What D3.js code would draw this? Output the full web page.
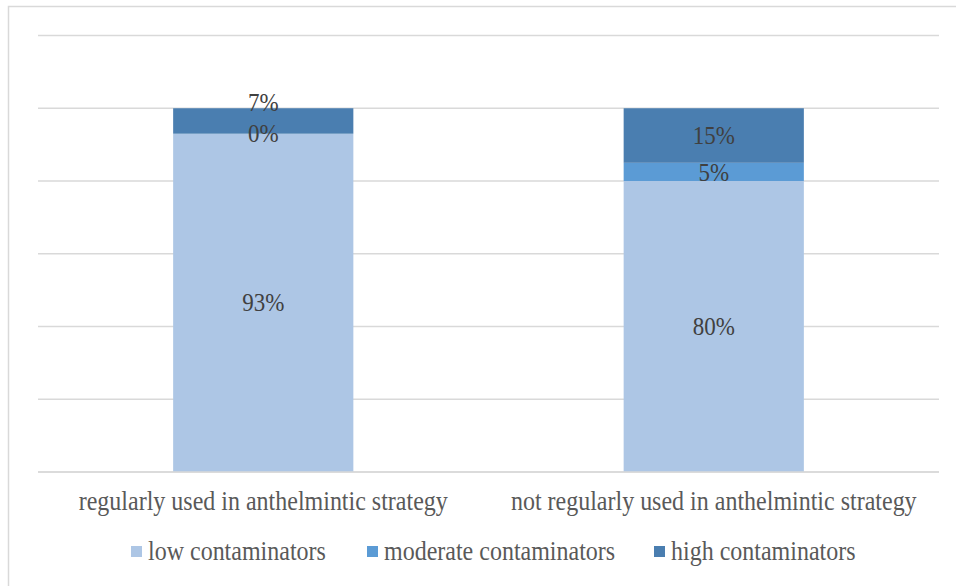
<!DOCTYPE html>
<html><head><meta charset="utf-8">
<script src="https://cdn.jsdelivr.net/npm/d3@7"></script>
<style>body{margin:0;background:#fff}svg{display:block}</style>
</head><body>
<svg id="c" width="956" height="586"></svg>
<script>
const categories = ["regularly used in anthelmintic strategy", "not regularly used in anthelmintic strategy"];
const seriesNames = ["low contaminators", "moderate contaminators", "high contaminators"];
const lowValues = [93, 80];
const moderateValues = [0, 5];
const highValues = [7, 15];
const yTicks = [0, 20, 40, 60, 80, 100, 120];
const colors = ["#adc6e5", "#5b9bd5", "#4a7eb0"];

const svg = d3.select("#c");
const W = 956, H = 586;
const font = "'Liberation Serif','Times New Roman',serif";
const textColor = "#595959";
const stretch = 1.1;

// outer border
svg.append("rect").attr("x", 8.5).attr("y", 6.5).attr("width", W).attr("height", H)
  .attr("fill", "none").attr("stroke", "#d9d9d9").attr("stroke-width", 1.5);

const x = d3.scaleBand().domain(categories).range([38, 939]).paddingInner(0.6).paddingOuter(0.3);
const y = d3.scaleLinear().domain([0, 120]).range([472, 35.5]);

// gridlines
svg.append("g").selectAll("line").data(yTicks).join("line")
  .attr("x1", 38).attr("x2", 939)
  .attr("y1", d => y(d)).attr("y2", d => y(d))
  .attr("stroke", "#d9d9d9").attr("stroke-width", 1.5);

const table = categories.map((c, i) => ({cat: c, low: lowValues[i], moderate: moderateValues[i], high: highValues[i]}));
const keys = ["low", "moderate", "high"];
const stacked = d3.stack().keys(keys)(table);

const g = svg.append("g");
stacked.forEach((layer, li) => {
  g.append("g").selectAll("rect").data(layer).join("rect")
    .attr("x", d => x(d.data.cat))
    .attr("width", x.bandwidth())
    .attr("y", d => y(d[1]))
    .attr("height", d => y(d[0]) - y(d[1]))
    .attr("fill", colors[li]);
});

// baseline
svg.append("line").attr("x1", 38).attr("x2", 939).attr("y1", y(0)).attr("y2", y(0))
  .attr("stroke", "#d9d9d9").attr("stroke-width", 1.5);

function label(px, py, txt, size, color, anchor) {
  svg.append("text")
    .attr("transform", `translate(${px},${py}) scale(1,${stretch})`)
    .attr("text-anchor", anchor)
    .attr("font-family", font).attr("font-size", size)
    .attr("fill", color).text(txt);
}

// data labels with simple collision nudge
categories.forEach((c, ci) => {
  let prevY = null;
  stacked.forEach((layer, li) => {
    const d = layer[ci];
    let cy = (y(d[0]) + y(d[1])) / 2;
    if (prevY !== null && prevY - cy < 22) cy = prevY - 31;
    prevY = cy;
    label(x(c) + x.bandwidth() / 2, cy + 0.34 * 23 * stretch, (d[1] - d[0]) + "%", 23, "#404040", "middle");
  });
});

// category axis labels
const xAxis = d3.axisBottom(x).tickSize(0).tickPadding(0);
const ax = svg.append("g").attr("transform", `translate(0,${y(0)})`).call(xAxis);
ax.select(".domain").remove();
ax.selectAll("text")
  .attr("y", 0).attr("dy", 0)
  .attr("transform", `translate(0,38) scale(1,${stretch})`)
  .attr("font-family", font).attr("font-size", 24).attr("fill", textColor);

// legend
const legendX = [131, 367, 654];
seriesNames.forEach((s, i) => {
  const lx = legendX[i];
  svg.append("rect").attr("x", lx).attr("y", 546).attr("width", 11).attr("height", 11).attr("fill", colors[i]);
  label(lx + 17, 560, s, 24, textColor, "start");
});
</script>
</body></html>
